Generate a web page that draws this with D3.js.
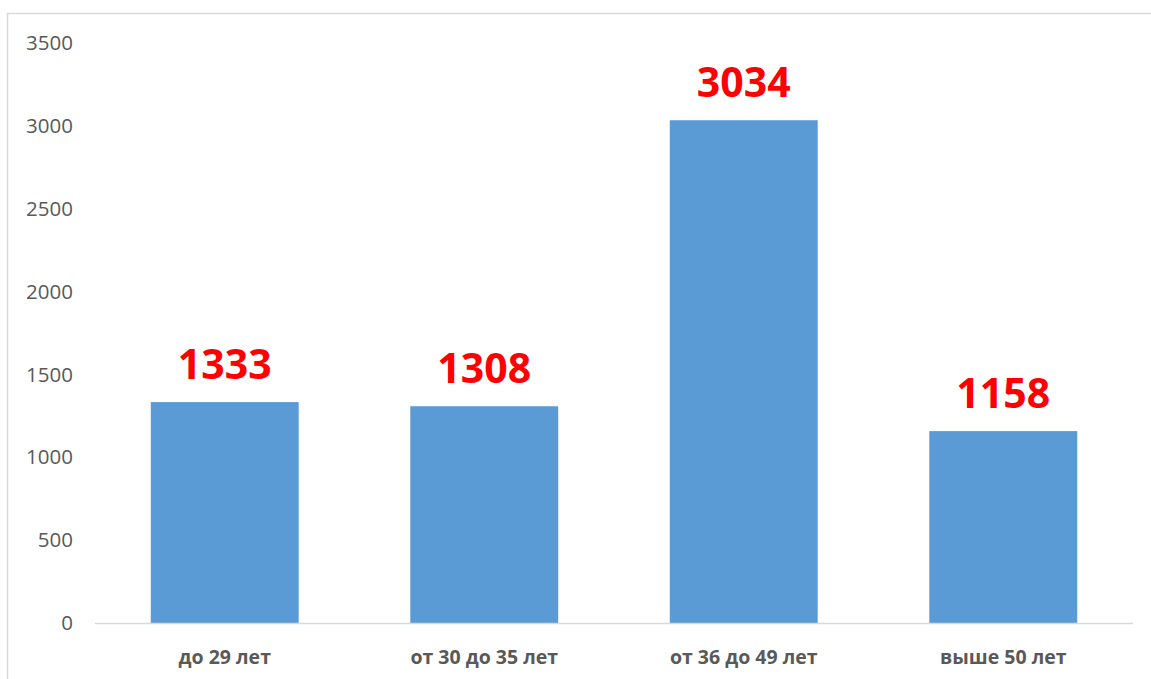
<!DOCTYPE html>
<html>
<head>
<meta charset="utf-8">
<script src="https://cdnjs.cloudflare.com/ajax/libs/d3/7.8.5/d3.min.js"></script>
<style>
  body { margin: 0; background: #fff; }
  svg { display: block; }
</style>
</head>
<body>
<svg id="chart"></svg>
<script>
// data
var categories = ["до 29 лет", "от 30 до 35 лет", "от 36 до 49 лет", "выше 50 лет"];
var values = [1333, 1308, 3034, 1158];
var yTicks = [0, 500, 1000, 1500, 2000, 2500, 3000, 3500];

var width = 1151, height = 679;
var margin = {top: 43, right: 18, bottom: 55, left: 95};

var svg = d3.select("#chart")
  .attr("width", width)
  .attr("height", height);

// chart frame
svg.append("rect")
  .attr("x", 7.5)
  .attr("y", 13.5)
  .attr("width", width + 10)
  .attr("height", height + 10)
  .attr("fill", "#fff")
  .attr("stroke", "#d9d9d9")
  .attr("stroke-width", 1.5);

var x = d3.scaleBand()
  .domain(categories)
  .range([margin.left, width - margin.right])
  .paddingInner(0.43)
  .paddingOuter(0.215);

var y = d3.scaleLinear()
  .domain([0, 3500])
  .range([height - margin.bottom - 1, margin.top]);

// y labels (no axis line)
svg.append("g")
  .selectAll("text")
  .data(yTicks)
  .enter()
  .append("text")
  .attr("x", 73)
  .attr("y", function(d) { return y(d); })
  .attr("dy", "0.35em")
  .attr("text-anchor", "end")
  .style("font-family", "'Open Sans', sans-serif")
  .style("font-size", "20.5px")
  .style("fill", "#595959")
  .text(function(d) { return d; });

// bars
svg.selectAll(".bar")
  .data(values)
  .enter()
  .append("rect")
  .attr("class", "bar")
  .attr("x", function(d, i) { return x(categories[i]); })
  .attr("y", function(d) { return y(d); })
  .attr("width", x.bandwidth())
  .attr("height", function(d) { return y(0) - y(d); })
  .attr("fill", "#5b9bd5");

// baseline
svg.append("line")
  .attr("x1", margin.left)
  .attr("x2", width - margin.right)
  .attr("y1", y(0) + 0.5)
  .attr("y2", y(0) + 0.5)
  .attr("stroke", "#d9d9d9")
  .attr("stroke-width", 1.5);

// value labels
svg.selectAll(".val")
  .data(values)
  .enter()
  .append("text")
  .attr("class", "val")
  .attr("x", function(d, i) { return x(categories[i]) + x.bandwidth() / 2; })
  .attr("y", function(d) { return y(d) - 23; })
  .attr("text-anchor", "middle")
  .style("font-family", "'Open Sans', sans-serif")
  .style("font-weight", "bold")
  .style("font-size", "41px")
  .style("fill", "#ff0000")
  .text(function(d) { return d; });

// category labels
svg.selectAll(".cat")
  .data(categories)
  .enter()
  .append("text")
  .attr("class", "cat")
  .attr("x", function(d) { return x(d) + x.bandwidth() / 2; })
  .attr("y", 664)
  .attr("text-anchor", "middle")
  .style("font-family", "'Open Sans', sans-serif")
  .style("font-weight", "bold")
  .style("font-size", "19.5px")
  .style("fill", "#595959")
  .text(function(d) { return d; });
</script>
</body>
</html>
